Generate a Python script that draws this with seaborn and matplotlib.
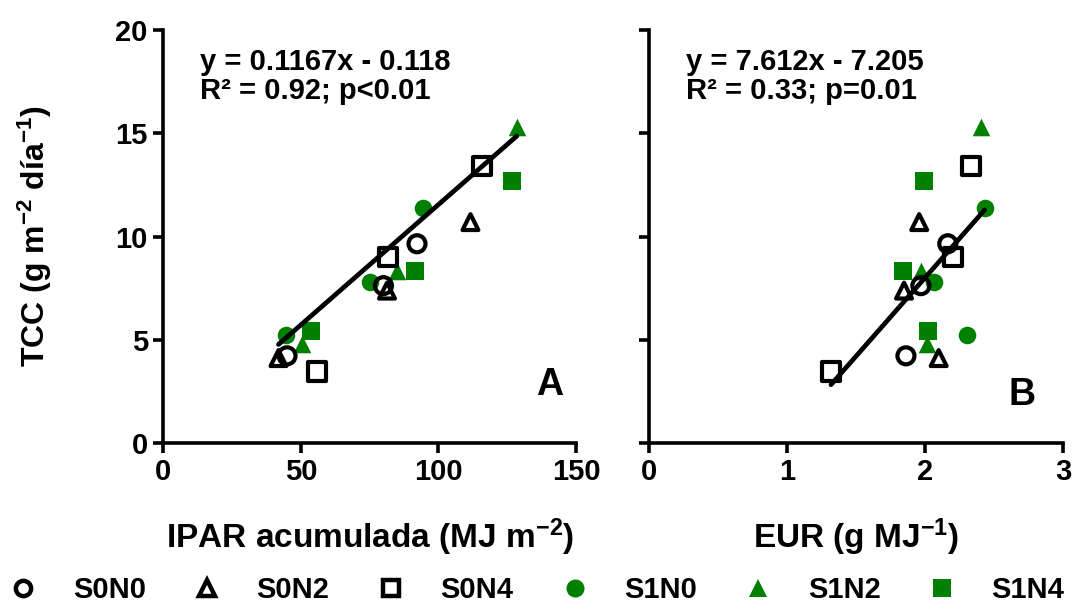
import numpy as np
import pandas as pd
import matplotlib
matplotlib.use("Agg")
import matplotlib.pyplot as plt
from matplotlib.lines import Line2D
import seaborn as sns

# Treatments and readings (3 per treatment)
treatments = ["S0N0", "S0N2", "S0N4", "S1N0", "S1N2", "S1N4"]

ipar_s0n0 = [45.0, 92.2, 80.0]
ipar_s0n2 = [111.6, 81.3, 41.9]
ipar_s0n4 = [115.9, 81.6, 55.9]
ipar_s1n0 = [94.4, 75.3, 44.7]
ipar_s1n2 = [128.4, 85.0, 50.4]
ipar_s1n4 = [126.8, 91.6, 53.7]

eur_s0n0 = [1.86, 2.163, 1.968]
eur_s0n2 = [1.956, 1.846, 2.097]
eur_s0n4 = [2.332, 2.199, 1.317]
eur_s1n0 = [2.43, 2.065, 2.303]
eur_s1n2 = [2.40, 1.968, 2.01]
eur_s1n4 = [1.99, 1.84, 2.017]

tcc_s0n0 = [4.22, 9.65, 7.62]
tcc_s0n2 = [10.7, 7.38, 4.11]
tcc_s0n4 = [13.44, 9.0, 3.46]
tcc_s1n0 = [11.39, 7.78, 5.23]
tcc_s1n2 = [15.3, 8.35, 4.79]
tcc_s1n4 = [12.69, 8.35, 5.44]

# Fitted regressions as reported
slope_a, intercept_a = 0.1167, -0.118
slope_b, intercept_b = 7.612, -7.205
eq_a = "y = 0.1167x - 0.118\nR² = 0.92; p<0.01"
eq_b = "y = 7.612x - 7.205\nR² = 0.33; p=0.01"

df = pd.DataFrame({
    "trat": np.repeat(treatments, 3),
    "ipar": ipar_s0n0 + ipar_s0n2 + ipar_s0n4 + ipar_s1n0 + ipar_s1n2 + ipar_s1n4,
    "eur": eur_s0n0 + eur_s0n2 + eur_s0n4 + eur_s1n0 + eur_s1n2 + eur_s1n4,
    "tcc": tcc_s0n0 + tcc_s0n2 + tcc_s0n4 + tcc_s1n0 + tcc_s1n2 + tcc_s1n4,
})

sns.set_theme(style="ticks")
plt.rcParams["font.family"] = ["Liberation Sans", "DejaVu Sans"]
plt.rcParams["font.weight"] = "bold"
plt.rcParams["text.color"] = "black"
plt.rcParams["axes.labelcolor"] = "black"
plt.rcParams["xtick.color"] = "black"
plt.rcParams["ytick.color"] = "black"
plt.rcParams["mathtext.fontset"] = "custom"
plt.rcParams["mathtext.rm"] = "Liberation Sans:bold"
plt.rcParams["mathtext.bf"] = "Liberation Sans:bold"
plt.rcParams["mathtext.it"] = "Liberation Sans:bold"
plt.rcParams["mathtext.default"] = "bf"

GREEN = "#008000"
styles = {
    "S0N0": dict(marker="o", open=True, size=150),
    "S0N2": dict(marker="^", open=True, size=130),
    "S0N4": dict(marker="s", open=True, size=170),
    "S1N0": dict(marker="o", open=False, size=160),
    "S1N2": dict(marker="^", open=False, size=160),
    "S1N4": dict(marker="s", open=False, size=160),
}

fig = plt.figure(figsize=(10.73, 6.16), dpi=100)
ax_a = fig.add_axes([0.152, 0.281, 0.385, 0.670])
ax_b = fig.add_axes([0.605, 0.281, 0.386, 0.670])


def draw_panel(ax, xcol, slope, intercept, eq, letter, letter_xy):
    for t in treatments:
        st = styles[t]
        sub = df[df["trat"] == t]
        if st["open"]:
            sns.scatterplot(data=sub, x=xcol, y="tcc", ax=ax, marker=st["marker"],
                            s=st["size"], facecolors="none", edgecolor="black",
                            linewidth=3.0, zorder=3, legend=False)
        else:
            sns.scatterplot(data=sub, x=xcol, y="tcc", ax=ax, marker=st["marker"],
                            s=st["size"], color=GREEN, edgecolor=GREEN,
                            linewidth=0, zorder=2, legend=False)
    xs = np.array([df[xcol].min(), df[xcol].max()])
    fit = pd.DataFrame({"x": xs, "y": slope * xs + intercept})
    sns.lineplot(data=fit, x="x", y="y", ax=ax, color="black", linewidth=3.4, zorder=4)
    ax.text(0.09, 0.958, eq, transform=ax.transAxes, ha="left", va="top",
            fontsize=21, fontweight="bold", linespacing=1.05)
    ax.text(letter_xy[0], letter_xy[1], letter, transform=ax.transAxes,
            ha="center", va="center", fontsize=27, fontweight="bold")
    ax.set_ylim(0, 20)
    ax.set_yticks([0, 5, 10, 15, 20])
    for side in ("top", "right"):
        ax.spines[side].set_visible(False)
    for side in ("left", "bottom"):
        ax.spines[side].set_linewidth(2.6)
        ax.spines[side].set_color("black")
    ax.tick_params(axis="both", length=7, width=2.6, color="black",
                   labelsize=21, pad=4)


draw_panel(ax_a, "ipar", slope_a, intercept_a, eq_a, "A", (0.935, 0.14))
ax_a.set_xlim(0, 150)
ax_a.set_xticks([0, 50, 100, 150])
ax_a.set_xlabel("IPAR acumulada (MJ m$^{-2}$)", fontsize=24, fontweight="bold", labelpad=22)
ax_a.set_ylabel("TCC (g m$^{-2}$ día$^{-1}$)", fontsize=23, fontweight="bold", labelpad=44)

draw_panel(ax_b, "eur", slope_b, intercept_b, eq_b, "B", (0.90, 0.115))
ax_b.set_xlim(0, 3)
ax_b.set_xticks([0, 1, 2, 3])
ax_b.set_yticklabels([])
ax_b.set_xlabel("EUR (g MJ$^{-1}$)", fontsize=24, fontweight="bold", labelpad=22)
ax_b.set_ylabel("")

for ax in (ax_a, ax_b):
    for lab in ax.get_xticklabels() + ax.get_yticklabels():
        lab.set_fontweight("bold")

handles = []
for t in treatments:
    st = styles[t]
    if st["open"]:
        h = Line2D([], [], linestyle="none", marker=st["marker"], markersize=11,
                   markerfacecolor="none", markeredgecolor="black", markeredgewidth=3.2)
    else:
        h = Line2D([], [], linestyle="none", marker=st["marker"], markersize=13,
                   markerfacecolor=GREEN, markeredgecolor=GREEN, markeredgewidth=0)
    handles.append(h)

fig.legend(handles, treatments, loc="center", bbox_to_anchor=(0.5, 0.042), ncol=6,
           frameon=False, prop={"size": 21, "weight": "bold"}, handlelength=1.0,
           handletextpad=1.2, columnspacing=1.6, borderpad=0.2)

fig.savefig("out.png", dpi=100)
